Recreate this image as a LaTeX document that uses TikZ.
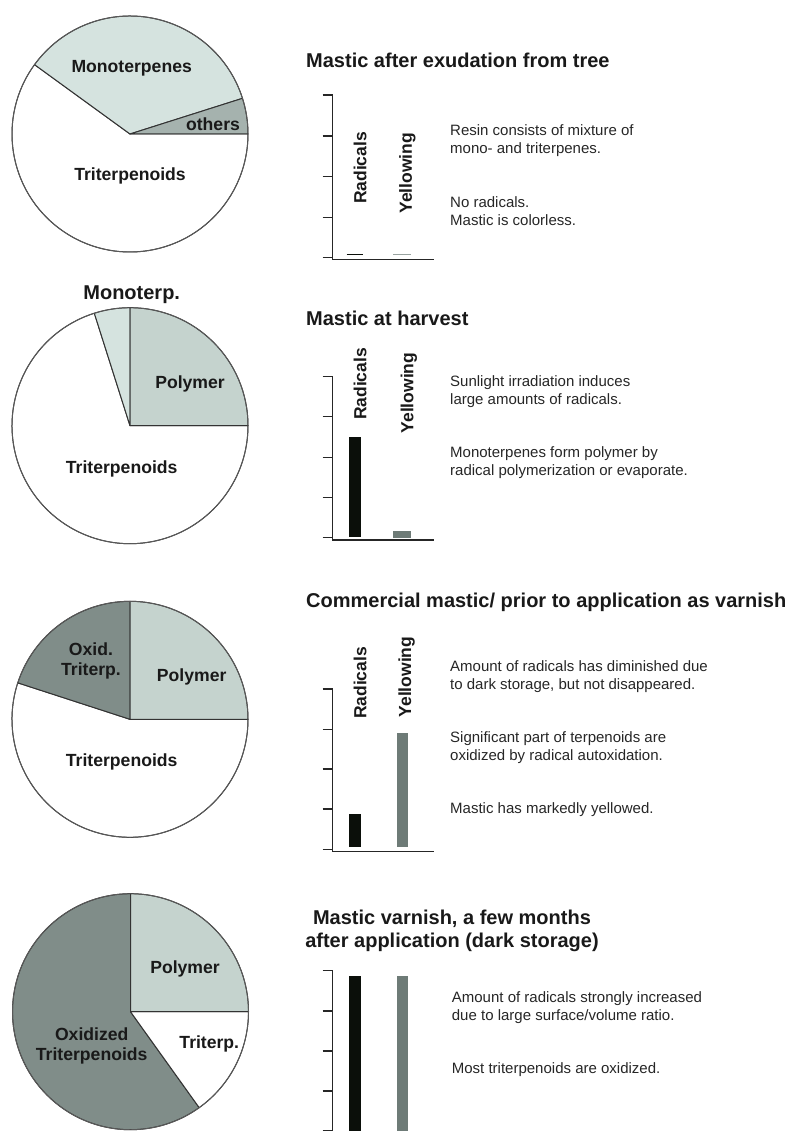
\documentclass[tikz,border=0pt]{standalone}
\usepackage{fontspec}
\setmainfont{Liberation Sans}
\begin{document}
\begin{tikzpicture}[x=1pt,y=-1pt,
  slice/.style={draw=black!80,line width=1pt,line join=round},
  rim/.style={draw=black!65,line width=0.9pt},
  pielbl/.style={font=\fontsize{17.6}{20.7}\selectfont\bfseries,text=black!90,align=center,inner sep=0pt},
  ttl/.style={font=\fontsize{20}{23.5}\selectfont\bfseries,text=black!90,inner sep=0pt},
  body/.style={font=\fontsize{15}{18}\selectfont,text=black!85,align=left,anchor=west,inner sep=0pt},
  rot/.style={font=\fontsize{17.5}{20}\selectfont\bfseries,text=black!90,rotate=90,inner sep=0pt},
  axis/.style={line width=1.3pt,draw=black!85},
  tick/.style={line width=1.1pt,draw=black!85},
  radbar/.style={fill=radc},
  yelbar/.style={fill=yelc}]
\definecolor{mono}{HTML}{D5E3DF}
\definecolor{oth}{HTML}{A5B2AE}
\definecolor{poly}{HTML}{C5D3CE}
\definecolor{oxid}{HTML}{808D89}
\definecolor{radc}{HTML}{0B0F0A}
\definecolor{yelc}{HTML}{6E7B77}
\useasboundingbox (0,0) rectangle (790,1131);

% ---------------- Pie 1 ----------------
\begin{scope}[shift={(130,134)},yscale=-1]
  \filldraw[slice,fill=white] (0,0) -- (144:118) arc[start angle=144,end angle=360,radius=118] -- cycle;
  \filldraw[slice,fill=mono] (0,0) -- (17.6:118) arc[start angle=17.6,end angle=144,radius=118] -- cycle;
  \filldraw[slice,fill=oth] (0,0) -- (0:118) arc[start angle=0,end angle=17.6,radius=118] -- cycle;
  \draw[rim] (0,0) circle[radius=118];
\end{scope}
\node[pielbl] (p1mono) at (131.7,68.3) {Monoterpenes};
\node[pielbl] (p1oth) at (213,124) {others};
\node[pielbl] (p1tri) at (130,176) {Triterpenoids};

% ---------------- Pie 2 ----------------
\begin{scope}[shift={(130,425.7)},yscale=-1]
  \filldraw[slice,fill=white] (0,0) -- (107.6:118) arc[start angle=107.6,end angle=360,radius=118] -- cycle;
  \filldraw[slice,fill=mono] (0,0) -- (90:118) arc[start angle=90,end angle=107.6,radius=118] -- cycle;
  \filldraw[slice,fill=poly] (0,0) -- (0:118) arc[start angle=0,end angle=90,radius=118] -- cycle;
  \draw[rim] (0,0) circle[radius=118];
\end{scope}
\node[ttl] (p2mono) at (131.7,295) {Monoterp.};
\node[pielbl] (p2poly) at (190,384) {Polymer};
\node[pielbl] (p2tri) at (121.7,469) {Triterpenoids};

% ---------------- Pie 3 ----------------
\begin{scope}[shift={(130,719.3)},yscale=-1]
  \filldraw[slice,fill=white] (0,0) -- (162:118) arc[start angle=162,end angle=360,radius=118] -- cycle;
  \filldraw[slice,fill=oxid] (0,0) -- (90:118) arc[start angle=90,end angle=162,radius=118] -- cycle;
  \filldraw[slice,fill=poly] (0,0) -- (0:118) arc[start angle=0,end angle=90,radius=118] -- cycle;
  \draw[rim] (0,0) circle[radius=118];
\end{scope}
\node[pielbl] (p3ox) at (91,661) {Oxid.\\Triterp.};
\node[pielbl] (p3poly) at (191.7,677.3) {Polymer};
\node[pielbl] (p3tri) at (121.7,761.7) {Triterpenoids};

% ---------------- Pie 4 ----------------
\begin{scope}[shift={(130.5,1011.7)},yscale=-1]
  \filldraw[slice,fill=oxid] (0,0) -- (90:118) arc[start angle=90,end angle=305.6,radius=118] -- cycle;
  \filldraw[slice,fill=white] (0,0) -- (305.6:118) arc[start angle=305.6,end angle=360,radius=118] -- cycle;
  \filldraw[slice,fill=poly] (0,0) -- (0:118) arc[start angle=0,end angle=90,radius=118] -- cycle;
  \draw[rim] (0,0) circle[radius=118];
\end{scope}
\node[pielbl] (p4poly) at (185,969.3) {Polymer};
\node[pielbl,font=\fontsize{17.6}{20}\selectfont\bfseries] (p4ox) at (91.7,1046) {Oxidized\\Triterpenoids};
\node[pielbl] (p4tri) at (209.3,1044) {Triterp.};

% ---------------- Chart 1 ----------------
\node[ttl,anchor=west] (t1) at (306,60) {Mastic after exudation from tree};
\draw[axis] (322.7,95) -- (332.7,95) -- (332.7,259.3) -- (434,259.3);
\foreach \y in {136,176.7,217.3,257.3} \draw[tick] (322.7,\y) -- (332.7,\y);
\draw[line width=1pt,draw=radc] (346.7,255) -- (363.3,255);
\draw[line width=1pt,draw=yelc!70] (393,255) -- (410.7,255);
\node[rot] (c1r) at (360,168) {Radicals};
\node[rot] (c1y) at (407.3,173.3) {Yellowing};
\node[body] (c1a) at (450,141) {Resin consists of mixture of\\mono- and triterpenes.};
\node[body] (c1b) at (450,211.5) {No radicals.\\Mastic is colorless.};

% ---------------- Chart 2 ----------------
\node[ttl,anchor=west] (t2) at (306,318) {Mastic at harvest};
\draw[axis] (322.7,376.7) -- (332.7,376.7) -- (332.7,540) -- (434,540);
\foreach \y in {416.7,457.3,497.3,537.3} \draw[tick] (322.7,\y) -- (332.7,\y);
\fill[radbar] (349.3,437.3) rectangle (360.7,537);
\fill[yelbar] (393.3,530.7) rectangle (410.7,537.5);
\node[rot] (c2r) at (360,384) {Radicals};
\node[rot] (c2y) at (409,393) {Yellowing};
\node[body] (c2a) at (450,391.3) {Sunlight irradiation induces\\large amounts of radicals.};
\node[body] (c2b) at (450,462.8) {Monoterpenes form polymer by\\radical polymerization or evaporate.};

% ---------------- Chart 3 ----------------
\node[ttl,anchor=west] (t3) at (306,602.7) {Commercial mastic/ prior to application as varnish};
\draw[axis] (322.7,689) -- (332.7,689) -- (332.7,851.7) -- (434,851.7);
\foreach \y in {729.3,769,809,849.3} \draw[tick] (322.7,\y) -- (332.7,\y);
\fill[radbar] (349.3,814.3) rectangle (360.7,846.5);
\fill[yelbar] (396.7,733.3) rectangle (408,846.5);
\node[rot] (c3r) at (360,683) {Radicals};
\node[rot] (c3y) at (406.7,677) {Yellowing};
\node[body] (c3a) at (450,676.3) {Amount of radicals has diminished due\\to dark storage, but not disappeared.};
\node[body] (c3b) at (450,747.2) {Significant part of terpenoids are\\oxidized by radical autoxidation.};
\node[body] (c3c) at (450,809.3) {Mastic has markedly yellowed.};

% ---------------- Chart 4 ----------------
\node[ttl,align=center,font=\fontsize{20}{23.4}\selectfont\bfseries] (t4) at (452,931) {Mastic varnish, a few months\\after application (dark storage)};
\draw[axis] (322.7,970.7) -- (332.7,970.7) -- (332.7,1135);
\foreach \y in {1011,1051,1091,1131} \draw[tick] (322.7,\y) -- (332.7,\y);
\fill[radbar] (349.3,975.7) rectangle (360.7,1135);
\fill[yelbar] (396.7,975.7) rectangle (408,1135);
\node[body] (c4a) at (451.7,1007.5) {Amount of radicals strongly increased\\due to large surface/volume ratio.};
\node[body] (c4b) at (451.7,1069.3) {Most triterpenoids are oxidized.};
\end{tikzpicture}
\end{document}
